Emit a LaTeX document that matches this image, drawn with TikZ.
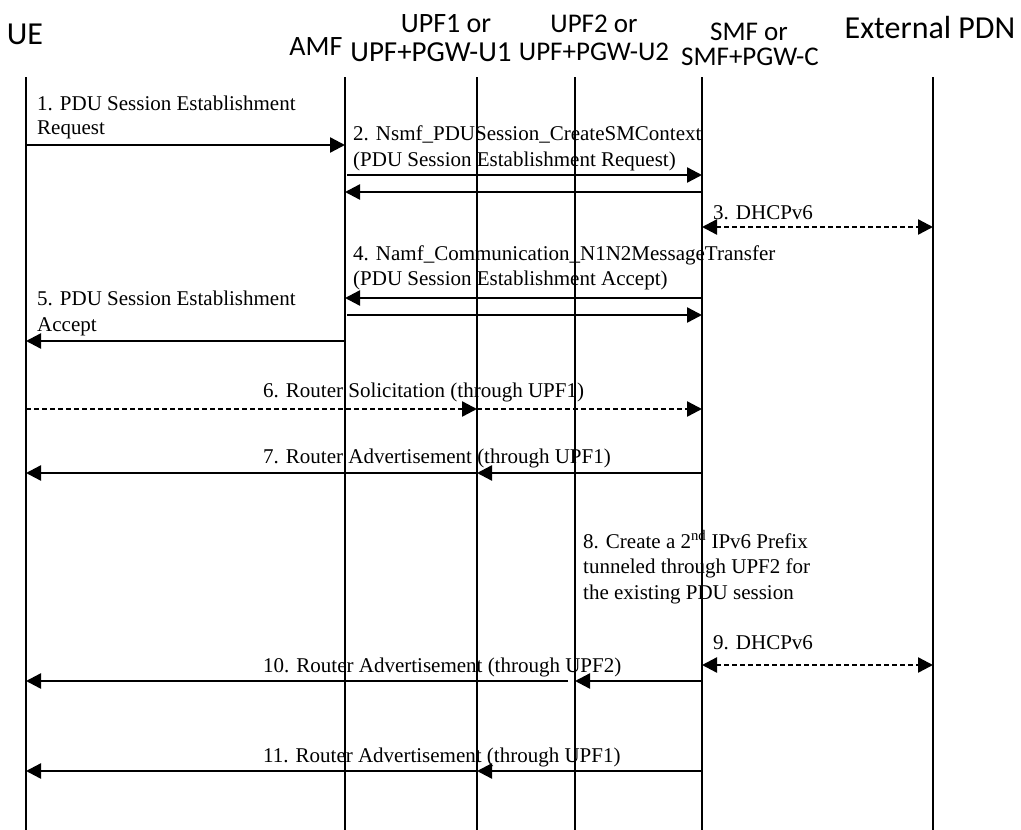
\documentclass[tikz,border=0pt]{standalone}
\usepackage{fontspec}
\setmainfont{Liberation Serif}
\newfontfamily\hdrfont{Carlito}
\usetikzlibrary{arrows.meta}
\begin{document}
\begin{tikzpicture}[x=1pt,y=-1pt,
  lifeline/.style={line width=2.5pt},
  msg/.style={line width=2.4pt,-{Triangle[length=15pt,width=15pt]}},
  dmsg/.style={msg,dash pattern=on 5pt off 3pt},
  bimsg/.style={line width=2.4pt,dash pattern=on 5pt off 3pt,{Triangle[length=15pt,width=15pt]}-{Triangle[length=15pt,width=15pt]}},
  lbl/.style={inner sep=0pt,anchor=base west,font=\fontsize{21}{25}\selectfont},
  hdr/.style={inner sep=0pt,anchor=base}]
\useasboundingbox (0,0) rectangle (1021,830);
% headers
\node[hdr,font=\hdrfont\fontsize{32}{34}\selectfont] (hUE) at (25,44) {UE};
\node[hdr,font=\hdrfont\fontsize{28}{32}\selectfont] (hAMF) at (316,55) {AMF};
\node[hdr,font=\hdrfont\fontsize{28}{32}\selectfont] (hUPFa) at (446,32) {UPF1 or};
\node[hdr,font=\hdrfont\fontsize{29}{32}\selectfont] (hUPFb) at (431,61) {UPF+PGW-U1};
\node[hdr,font=\hdrfont\fontsize{27}{32}\selectfont] (hUPFc) at (594,32) {UPF2 or};
\node[hdr,font=\hdrfont\fontsize{27}{32}\selectfont] (hUPFd) at (594,60) {UPF+PGW-U2};
\node[hdr,font=\hdrfont\fontsize{27}{32}\selectfont] (hSMFa) at (749,40) {SMF or};
\node[hdr,font=\hdrfont\fontsize{27}{32}\selectfont] (hSMFb) at (750,65) {SMF+PGW-C};
\node[hdr,font=\hdrfont\fontsize{32}{34}\selectfont] (hPDN) at (930,38) {External PDN};
% lifelines
\coordinate (UE) at (26,77);   \coordinate (UEb) at (26,830);
\coordinate (AMF) at (345,77); \coordinate (AMFb) at (345,830);
\coordinate (UPFA) at (477,77); \coordinate (UPFAb) at (477,830);
\coordinate (UPFB) at (575,77); \coordinate (UPFBb) at (575,830);
\coordinate (SMF) at (702,77); \coordinate (SMFb) at (702,830);
\coordinate (PDN) at (933,77); \coordinate (PDNb) at (933,830);
\foreach \a/\b in {UE/UEb,AMF/AMFb,UPFA/UPFAb,UPFB/UPFBb,SMF/SMFb,PDN/PDNb}
  \draw[lifeline] (\a) -- (\b);
% message rows
\coordinate (r1) at (0,145);
\coordinate (r2a) at (0,175);
\coordinate (r2b) at (0,192);
\coordinate (r3) at (0,227);
\coordinate (r4a) at (0,298);
\coordinate (r4b) at (0,315);
\coordinate (r5) at (0,341);
\coordinate (r6) at (0,409);
\coordinate (r7) at (0,473);
\coordinate (r9) at (0,665);
\coordinate (r10) at (0,681);
\coordinate (r11) at (0,771);
% messages
\draw[msg] (UE |- r1) -- (AMF |- r1);
\draw[msg,shorten <=2pt] (AMF |- r2a) -- (SMF |- r2a);
\draw[msg] (SMF |- r2b) -- (AMF |- r2b);
\draw[bimsg] (SMF |- r3) -- (PDN |- r3);
\draw[msg] (SMF |- r4a) -- (AMF |- r4a);
\draw[msg,shorten <=2pt] (AMF |- r4b) -- (SMF |- r4b);
\draw[msg] (AMF |- r5) -- (UE |- r5);
\draw[dmsg] (UE |- r6) -- (UPFA |- r6);
\draw[dmsg] (UPFA |- r6) -- (SMF |- r6);
\draw[msg] (SMF |- r7) -- (UPFA |- r7);
\draw[msg] (UPFA |- r7) -- (UE |- r7);
\draw[bimsg] (SMF |- r9) -- (PDN |- r9);
\draw[msg] (SMF |- r10) -- (UPFB |- r10);
\draw[msg,shorten <=7pt] (UPFB |- r10) -- (UE |- r10);
\draw[msg] (SMF |- r11) -- (UPFA |- r11);
\draw[msg] (UPFA |- r11) -- (UE |- r11);
% labels
\node[lbl] (l1a) at (37,110) {1. PDU Session Establishment};
\node[lbl] (l1b) at (37,134) {Request};
\node[lbl] (l2a) at (353,140) {2. Nsmf\_PDUSession\_CreateSMContext};
\node[lbl] (l2b) at (353,166) {(PDU Session Establishment Request)};
\node[lbl] (l3) at (713,219) {3. DHCPv6};
\node[lbl] (l4a) at (353,260) {4. Namf\_Communication\_N1N2MessageTransfer};
\node[lbl] (l4b) at (353,285) {(PDU Session Establishment Accept)};
\node[lbl] (l5a) at (37,305) {5. PDU Session Establishment};
\node[lbl] (l5b) at (37,331) {Accept};
\node[lbl] (l6) at (263,397) {6. Router Solicitation (through UPF1)};
\node[lbl] (l7) at (263,463) {7. Router Advertisement (through UPF1)};
\node[lbl] (l8a) at (583,548) {8. Create a 2\textsuperscript{nd} IPv6 Prefix};
\node[lbl] (l8b) at (583,573) {tunneled through UPF2 for};
\node[lbl] (l8c) at (583,599) {the existing PDU session};
\node[lbl] (l9) at (713,649) {9. DHCPv6};
\node[lbl] (l10) at (263,672) {10. Router Advertisement (through UPF2)};
\node[lbl] (l11) at (263,762) {11. Router Advertisement (through UPF1)};
\end{tikzpicture}
\end{document}
